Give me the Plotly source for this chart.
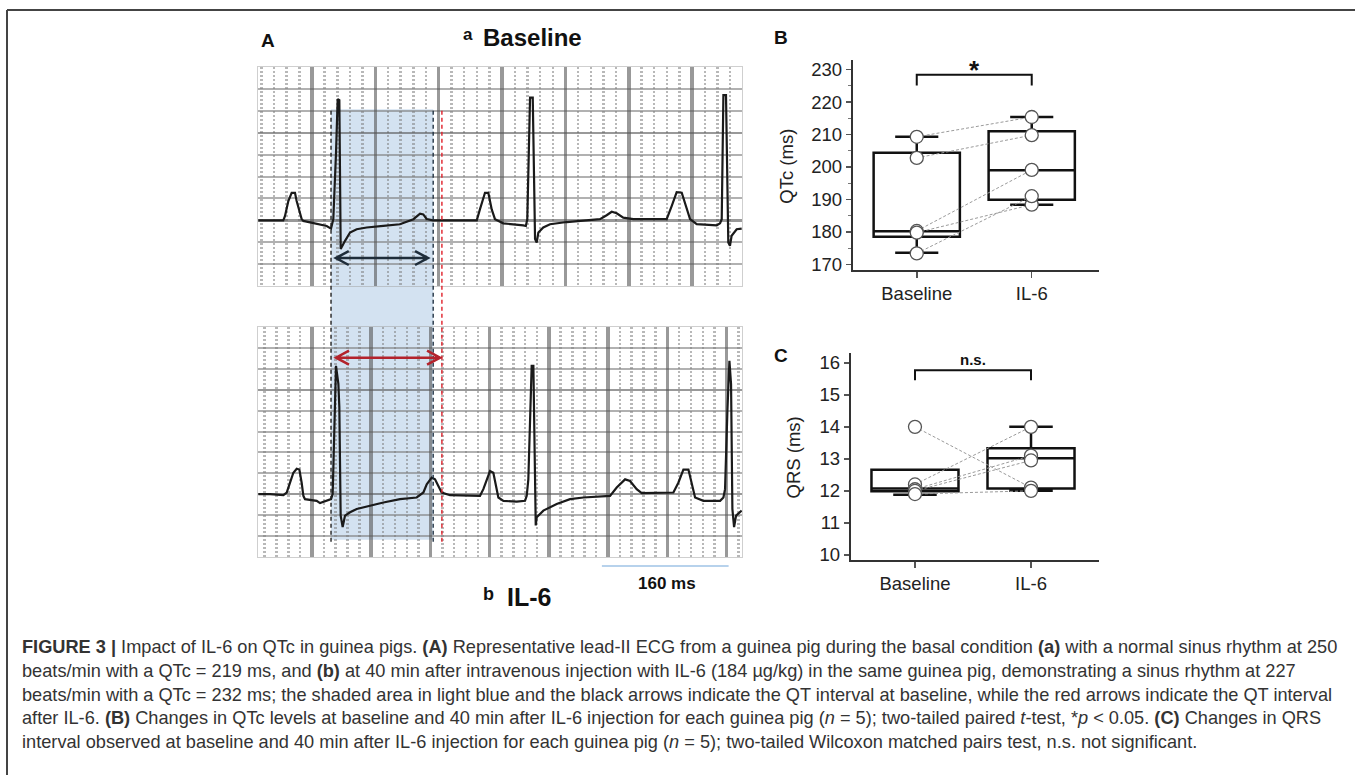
import plotly.graph_objects as go

W, H = 1355, 775

# ---------------- Panel A: ECG traces (time in ms, amplitude in grid rows) ----------------
ecg_a_t = [-67.8, -36.2, -34.1, -29.9, -25.7, -21.5, -19.4, -15.2, -13.0, -10.9, 5.9, 18.5, 24.0, 26.9,
           30.3, 32.4, 34.5, 36.2, 41.7, 48.0, 56.4, 69.0, 90.0, 111.0, 128.0, 136.4, 140.5, 144.7,
           153.0, 208.0, 212.0, 218.4, 222.6, 226.9, 231.0, 241.5, 266.8, 270.0, 271.8, 275.3, 278.7,
           281.6, 283.7, 285.8, 292.0, 300.5, 321.6, 342.6, 363.6, 372.0, 378.4, 384.7, 393.0, 405.7,
           447.8, 454.1, 460.4, 466.8, 473.0, 477.3, 485.7, 511.0, 515.2, 517.3, 519.4, 522.7, 525.6,
           527.7, 529.8, 536.2, 542.5]
ecg_a_v = [0, 0, 0.2, 0.88, 1.26, 1.26, 0.88, 0.35, 0.05, -0.03, -0.18, -0.26, -0.38, 0.05,
           3.08, 5.55, 5.5, -1.32, -0.94, -0.56, -0.41, -0.33, -0.26, -0.18, 0.05, 0.3, 0.27, 0.06,
           0, 0, 0.5, 1.26, 1.26, 0.5, 0.05, -0.14, -0.23, -0.26, 0.05, 5.62, 5.62,
           -0.86, -1.02, -0.56, -0.33, -0.18, -0.08, -0.03, 0.05, 0.23, 0.39, 0.32, 0.12, 0.05,
           0.05, 0.65, 1.29, 1.26, 0.5, 0.05, -0.18, -0.23, -0.14, 0.05, 5.73, 5.73, -1.02,
           -1.17, -0.71, -0.41, -0.38]

ecg_b_t = [-72.5, -56.8, -38.7, -34.2, -29.7, -25.2, -20.7, -17.1, -14.0, -11.7, -9.5, 6.3, 10.8, 22.1,
           25.7, 27.9, 31.1, 32.4, 35.6, 36.9, 38.7, 41.4, 44.6, 51.4, 60.4, 78.4, 96.4, 118.9, 141.4,
           150.5, 155.0, 161.7, 166.2, 170.7, 175.2, 186.5, 209.0, 227.0, 231.5, 236.0, 240.5, 245.0,
           248.6, 251.8, 258.6, 276.6, 287.8, 290.1, 292.3, 294.6, 296.8, 299.1, 300.4, 302.3, 303.6,
           312.6, 330.6, 348.6, 366.7, 389.2, 402.7, 411.7, 423.0, 429.7, 438.7, 445.5, 479.3, 488.3,
           495.0, 501.8, 508.6, 513.1, 517.6, 528.8, 551.4, 555.9, 558.1, 561.3, 564.0, 566.2, 568.0,
           570.3, 573.0, 580.6]
ecg_b_v = [0, 0, -0.05, 0.08, 0.55, 1.03, 1.22, 1.18, 0.55, -0.08, -0.24, -0.32, -0.43, -0.27,
           -0.24, 0, 4.03, 6.16, 5.29, 4.19, -1.03, -1.58, -1.03, -0.87, -0.71, -0.55, -0.4, -0.24, -0.16,
           0.08, 0.47, 0.79, 0.71, 0.39, 0.08, -0.05, -0.05, -0.08, 0.24, 0.71, 1.11, 1.03,
           0.39, -0.16, -0.32, -0.36, -0.32, -0.08, 0.71, 4.03, 6.16, 6.16, 3.55, -1.5, -1.11,
           -0.79, -0.47, -0.24, -0.16, -0.11, -0.08, 0.32, 0.71, 0.63, 0.24, 0.05, 0.05, 0.08,
           0.55, 1.18, 1.18, 0.55, -0.16, -0.32, -0.32, -0.16, 0.24, 4.03, 6.4, 5.29, -0.71,
           -1.58, -1.03, -0.79]

# QT interval markers (ms, on the baseline trace time scale)
qt_start_ms = 24.0
qt_end_baseline_ms = 153.0
qt_end_il6_ms = 164.0
arrow_baseline_ms = [30.0, 146.5]
arrow_baseline_level = -1.73
arrow_il6_ms = [32.4, 173.0]
arrow_il6_level = 6.55
scale_bar_start_ms = 366.0
scale_bar_ms = 160

# ---------------- Panels B and C ----------------
categories = ["Baseline", "IL-6"]
qtc_baseline = [209.3, 202.8, 180.3, 179.8, 173.4]
qtc_il6 = [215.4, 209.8, 199.1, 188.4, 191.0]
qtc_q1 = [178.5, 189.9]
qtc_median = [180.2, 199.0]
qtc_q3 = [204.4, 211.0]
qtc_low = [173.6, 188.4]
qtc_high = [209.3, 215.4]

qrs_baseline = [14.0, 12.2, 12.05, 12.0, 11.9]
qrs_il6 = [12.1, 14.0, 13.1, 12.95, 12.0]
qrs_q1 = [11.99, 12.07]
qrs_median = [12.07, 13.02]
qrs_q3 = [12.66, 13.33]
qrs_low = [11.88, 12.0]
qrs_high = [12.66, 14.0]

sig_b = dict(level=228.4, drop=3.3, label="*", label_y=229.9)
sig_c = dict(level=15.77, drop=0.31, label="n.s.", label_y=16.1)

caption_lines = [
    "<b>FIGURE 3 |</b> Impact of IL-6 on QTc in guinea pigs. <b>(A)</b> Representative lead-II ECG from a guinea pig during the basal condition <b>(a)</b> with a normal sinus rhythm at 250",
    "beats/min with a QTc = 219 ms, and <b>(b)</b> at 40 min after intravenous injection with IL-6 (184 \u00b5g/kg) in the same guinea pig, demonstrating a sinus rhythm at 227",
    "beats/min with a QTc = 232 ms; the shaded area in light blue and the black arrows indicate the QT interval at baseline, while the red arrows indicate the QT interval",
    "after IL-6. <b>(B)</b> Changes in QTc levels at baseline and 40 min after IL-6 injection for each guinea pig (<i>n</i> = 5); two-tailed paired <i>t</i>-test, *<i>p</i> &lt; 0.05. <b>(C)</b> Changes in QRS",
    "interval observed at baseline and 40 min after IL-6 injection for each guinea pig (<i>n</i> = 5); two-tailed Wilcoxon matched pairs test, n.s. not significant.",
]

FONT = "Arial, Liberation Sans, sans-serif"


def fx(px):
    return px / W


def fy(py):
    return 1 - py / H


# axis geometry (pixels) and ranges
A_dom = (258, 742)
A_top_y = (67, 287)
A_bot_y = (329, 560)
A_top_xr = [-68.2, 542.9]
A_top_yr = [-3, 7]
A_bot_xr = [-73.0, 581.0]
A_bot_yr = [-3, 8]

fig = go.Figure()

# ECG traces
fig.add_trace(go.Scatter(x=ecg_a_t, y=ecg_a_v, mode="lines", line=dict(color="#1a1a1a", width=2.2),
                         xaxis="x", yaxis="y", showlegend=False, hoverinfo="skip"))
fig.add_trace(go.Scatter(x=ecg_b_t, y=ecg_b_v, mode="lines", line=dict(color="#1a1a1a", width=2.2),
                         xaxis="x2", yaxis="y2", showlegend=False, hoverinfo="skip"))

# Box plots
for xa, ya, q1, med, q3, lo, hi in [("x3", "y3", qtc_q1, qtc_median, qtc_q3, qtc_low, qtc_high),
                                    ("x4", "y4", qrs_q1, qrs_median, qrs_q3, qrs_low, qrs_high)]:
    fig.add_trace(go.Box(x=[0, 1], q1=q1, median=med, q3=q3, lowerfence=lo, upperfence=hi,
                         width=0.75, whiskerwidth=0.5, boxpoints=False,
                         line=dict(color="#111", width=2.5), fillcolor="rgba(255,255,255,0)",
                         xaxis=xa, yaxis=ya, showlegend=False, hoverinfo="skip"))

# paired lines and points
for xa, ya, base, il6 in [("x3", "y3", qtc_baseline, qtc_il6), ("x4", "y4", qrs_baseline, qrs_il6)]:
    for b, i in zip(base, il6):
        fig.add_trace(go.Scatter(x=[0, 1], y=[b, i], mode="lines",
                                 line=dict(color="#9a9a9a", width=1, dash="3px,2px"),
                                 xaxis=xa, yaxis=ya, showlegend=False, hoverinfo="skip"))
    fig.add_trace(go.Scatter(x=[0] * len(base) + [1] * len(il6), y=base + il6, mode="markers",
                             marker=dict(size=13, color="white", line=dict(color="#555", width=1.3)),
                             xaxis=xa, yaxis=ya, showlegend=False, hoverinfo="skip"))

shapes = []
# shaded QT interval spanning both ECG strips
shapes.append(dict(type="rect", xref="x", yref="paper", x0=qt_start_ms, x1=qt_end_baseline_ms,
                   y0=fy(543), y1=fy(109), fillcolor="#d3e2f1", line=dict(width=0), layer="below"))
for xv, col in [(qt_start_ms, "#222"), (qt_end_baseline_ms, "#223344"), (qt_end_il6_ms, "#e0202a")]:
    shapes.append(dict(type="line", xref="x", yref="paper", x0=xv, x1=xv, y0=fy(545), y1=fy(109),
                       line=dict(color=col, width=1.4, dash="4px,3px"), layer="above"))


# double-headed arrows (chevrons sized in pixels, converted via each axis scale)
def arrow_path(x0, x1, lvl, xr, dom, yr, ydom, hx=13, hy=7):
    mspp = (xr[1] - xr[0]) / (dom[1] - dom[0])
    upp = (yr[1] - yr[0]) / (ydom[1] - ydom[0])
    dx, dy = hx * mspp, hy * upp
    return (f"M {x0+dx},{lvl+dy} L {x0},{lvl} L {x0+dx},{lvl-dy} "
            f"M {x0},{lvl} L {x1},{lvl} "
            f"M {x1-dx},{lvl+dy} L {x1},{lvl} L {x1-dx},{lvl-dy}")


shapes.append(dict(type="path", xref="x", yref="y",
                   path=arrow_path(arrow_baseline_ms[0], arrow_baseline_ms[1], arrow_baseline_level,
                                   A_top_xr, A_dom, A_top_yr, A_top_y),
                   line=dict(color="#1f2d3a", width=2.5), layer="above"))
shapes.append(dict(type="path", xref="x2", yref="y2",
                   path=arrow_path(arrow_il6_ms[0], arrow_il6_ms[1], arrow_il6_level,
                                   A_bot_xr, A_dom, A_bot_yr, A_bot_y),
                   line=dict(color="#b3232c", width=2.5), layer="above"))

# scale bar
shapes.append(dict(type="line", xref="x", yref="paper", x0=scale_bar_start_ms,
                   x1=scale_bar_start_ms + scale_bar_ms, y0=fy(569.5), y1=fy(569.5),
                   line=dict(color="#9fc3e6", width=1.5)))

# significance brackets
for xa, ya, s in [("x3", "y3", sig_b), ("x4", "y4", sig_c)]:
    shapes.append(dict(type="path", xref=xa, yref=ya,
                       path=f"M 0,{s['level']-s['drop']} L 0,{s['level']} L 1,{s['level']} L 1,{s['level']-s['drop']}",
                       line=dict(color="#111", width=2)))

# figure border
shapes.append(dict(type="line", xref="paper", yref="paper", x0=fx(7), x1=1.01, y0=fy(9), y1=fy(9),
                   line=dict(color="#444", width=2)))
shapes.append(dict(type="line", xref="paper", yref="paper", x0=fx(7), x1=fx(7), y0=fy(9), y1=-0.01,
                   line=dict(color="#444", width=2)))

ann = []


def txt(text, x, y, size, bold=False, xanchor="center", color="#111", angle=0, xref="paper", yref="paper"):
    ann.append(dict(text=(f"<b>{text}</b>" if bold else text),
                    x=x, y=y, xref=xref, yref=yref, xanchor=xanchor, yanchor="middle",
                    showarrow=False, textangle=angle,
                    font=dict(family=FONT, size=size, color=color)))


txt("A", fx(268), fy(40), 19, bold=True)
txt("B", fx(781), fy(37), 19, bold=True)
txt("C", fx(781), fy(357), 19, bold=True)
txt("a", fx(468), fy(34), 17, bold=True)
txt("Baseline", fx(532), fy(37), 24, bold=True)
txt("b", fx(488), fy(598), 18, bold=True)
txt("IL-6", fx(529), fy(601), 25, bold=True)
txt("160 ms", fx(667), fy(587), 17, bold=True)
txt("QTc (ms)", fx(787), fy(167), 18.5, angle=-90, color="#222")
txt("QRS (ms)", fx(793), fy(460), 18.5, angle=-90, color="#222")
txt(sig_b["label"], 0.5, sig_b["label_y"], 26, bold=True, xref="x3", yref="y3")
txt(sig_c["label"], 0.5, sig_c["label_y"], 15, bold=True, xref="x4", yref="y4")

cap_y = [651, 675, 699, 723, 747]
for line, yy in zip(caption_lines, cap_y):
    txt(line, fx(20), fy(yy), 18.2, xanchor="left", color="#333")

grid_major = "rgba(85,85,85,0.6)"
grid_minor_v = "rgba(125,125,125,0.55)"
grid_minor_h = "rgba(125,125,125,0.6)"


def ecg_xaxis(dom, rng):
    return dict(domain=[fx(dom[0]), fx(dom[1])], range=rng, showticklabels=False, ticks="",
                zeroline=False, showgrid=True, dtick=80, tick0=0, gridcolor=grid_major, gridwidth=3.5,
                minor=dict(dtick=16, showgrid=True, gridcolor=grid_minor_v, gridwidth=2.5, griddash="2px,2px"),
                showline=True, linecolor="rgba(160,160,160,0.5)", linewidth=1, mirror=True, fixedrange=True)


def ecg_yaxis(dom, rng, major):
    return dict(domain=[fy(dom[1]), fy(dom[0])], range=rng, showticklabels=False, ticks="",
                zeroline=False, showgrid=True, dtick=major, tick0=0, gridcolor="rgba(85,85,85,0.6)",
                gridwidth=2.5,
                minor=dict(dtick=1, showgrid=True, gridcolor=grid_minor_h, gridwidth=2),
                showline=True, linecolor="rgba(160,160,160,0.5)", linewidth=1, mirror=True, fixedrange=True)


def cat_xaxis(left, rng):
    return dict(domain=[fx(left), fx(1099)], range=rng, tickvals=[0, 1], ticktext=categories,
                ticks="outside", ticklen=6, tickwidth=1.5, tickcolor="#555", showline=True,
                linecolor="#333", linewidth=2, showgrid=False, zeroline=False,
                tickfont=dict(family=FONT, size=18.5, color="#222"), fixedrange=True)


def val_yaxis(dom, rng, dtick, minor=None):
    d = dict(domain=[fy(dom[1]), fy(dom[0])], range=rng, dtick=dtick, ticks="outside", ticklen=5,
             tickwidth=1.5, tickcolor="#555", showline=True, linecolor="#333", linewidth=2,
             showgrid=False, zeroline=False, tickfont=dict(family=FONT, size=18.5, color="#222"),
             fixedrange=True)
    if minor:
        d["minor"] = dict(dtick=minor, ticks="outside", ticklen=3, tickcolor="#777", tickwidth=1)
    return d


fig.update_layout(
    width=W, height=H, autosize=False,
    margin=dict(l=0, r=0, t=0, b=0),
    paper_bgcolor="white", plot_bgcolor="rgba(0,0,0,0)",
    font=dict(family=FONT, color="#222"),
    showlegend=False,
    xaxis=ecg_xaxis(A_dom, A_top_xr),
    yaxis=ecg_yaxis(A_top_y, A_top_yr, 4),
    xaxis2=ecg_xaxis(A_dom, A_bot_xr),
    yaxis2=ecg_yaxis(A_bot_y, A_bot_yr, 5),
    xaxis3=cat_xaxis(852.7, [-0.557, 1.585]),
    yaxis3=val_yaxis((59.3, 270.7), [168.4, 233], 10, minor=5),
    xaxis4=cat_xaxis(850.7, [-0.554, 1.586]),
    yaxis4=val_yaxis((355, 563.3), [9.84, 16.3], 1),
    shapes=shapes,
    annotations=ann,
)
fig.update_layout(xaxis2=dict(anchor="y2"), yaxis2=dict(anchor="x2"),
                  xaxis3=dict(anchor="y3"), yaxis3=dict(anchor="x3"),
                  xaxis4=dict(anchor="y4"), yaxis4=dict(anchor="x4"))

fig.write_html("out.html", config={"displayModeBar": False, "staticPlot": True},
               post_script="document.body.style.margin='0px';")
